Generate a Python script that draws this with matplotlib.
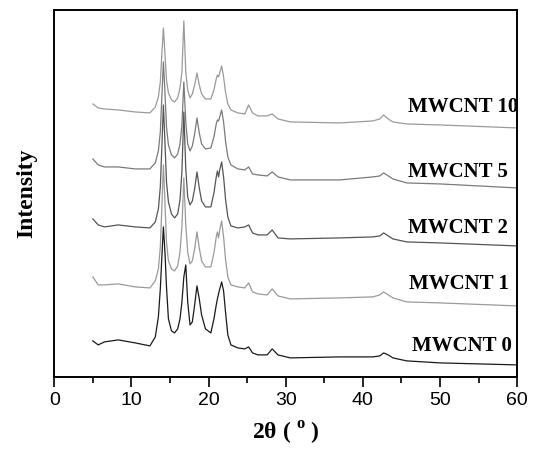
import numpy as np
import matplotlib
matplotlib.use("Agg")
import matplotlib.pyplot as plt

# 2-theta grid shared by all patterns (degrees)
two_theta = [5.0, 5.7, 6.5, 8.3, 10.5, 12.4, 13.1, 13.5, 13.75, 13.95, 14.15, 14.35,
             14.55, 14.8, 15.2, 15.6, 16.0, 16.3, 16.55, 16.8, 17.05, 17.3, 17.6,
             17.9, 18.2, 18.5, 18.8, 19.1, 19.6, 20.3, 20.7, 21.0, 21.15, 21.3,
             21.45, 21.7, 21.95, 22.2, 22.5, 22.9, 23.8, 24.7, 25.2, 25.7, 26.4,
             27.6, 28.25, 29.0, 30.6, 37.0, 41.3, 42.2, 42.7, 43.3, 43.9, 45.7,
             50.0, 60.0]

# intensities (a.u., already stacked with offsets)
mwcnt10 = [273, 269, 268, 267, 265, 264, 270, 280, 295, 323, 349, 323,
           297, 284, 277, 275, 279, 289, 305, 356, 305, 287, 279,
           283, 292, 304, 292, 283, 278, 278, 287, 298, 302, 300,
           304, 311, 300, 285, 273, 267, 264, 263, 272, 264, 261,
           261, 263, 258, 255, 254, 256, 258, 262, 258, 255, 253,
           252, 249]
mwcnt5 = [218, 212, 210, 210, 208, 208, 214, 226, 245, 280, 315, 285,
          250, 232, 222, 219, 223, 233, 252, 295, 255, 233, 226,
          231, 243, 259, 244, 233, 228, 229, 240, 253, 257, 256,
          260, 267, 255, 236, 220, 212, 208, 207, 210, 203, 202,
          201, 205, 200, 197, 197, 200, 201, 204, 201, 198, 194,
          193, 189]
mwcnt2 = [158, 152, 150, 152, 150, 149, 155, 168, 190, 230, 272, 235,
          195, 175, 163, 159, 163, 177, 205, 265, 208, 180, 172,
          176, 188, 205, 189, 176, 170, 170, 184, 200, 206, 200,
          207, 215, 200, 178, 160, 151, 149, 150, 152, 144, 142,
          142, 147, 139, 138, 139, 140, 141, 144, 141, 138, 135,
          134, 131]
mwcnt1 = [100, 92, 92, 93, 90, 89, 96, 108, 130, 170, 212, 175,
          135, 116, 108, 106, 111, 125, 150, 199, 152, 125, 113,
          116, 128, 145, 129, 116, 110, 110, 124, 140, 145, 139,
          147, 156, 140, 118, 100, 92, 90, 89, 94, 85, 83,
          82, 88, 81, 78, 79, 80, 82, 85, 82, 79, 75,
          74, 71]
mwcnt0 = [36, 32, 35, 37, 34, 31, 40, 60, 88, 120, 150, 125,
          90, 58, 46, 44, 48, 58, 75, 100, 112, 75, 52,
          55, 72, 91, 78, 62, 48, 44, 58, 72, 78, 83,
          88, 95, 86, 65, 42, 32, 29, 28, 30, 24, 22,
          22, 28, 22, 19, 20, 20, 21, 24, 22, 19, 16,
          14, 12]

labels = ['MWCNT 10', 'MWCNT 5', 'MWCNT 2', 'MWCNT 1', 'MWCNT 0']
label_x = [45.9, 45.9, 45.9, 46.0, 46.4]
label_y = [270, 205, 149, 93, 31]
colors = ['#9a9a9a', '#7a7a7a', '#555555', '#9a9a9a', '#1a1a1a']

serif = ['Liberation Serif', 'DejaVu Serif']
plt.rcParams['mathtext.fontset'] = 'custom'
plt.rcParams['mathtext.rm'] = 'Liberation Serif:bold'

fig = plt.figure(figsize=(5.37, 4.53), dpi=100)
ax = fig.add_axes([0.101, 0.168, 0.862, 0.810])

for y, c in zip([mwcnt10, mwcnt5, mwcnt2, mwcnt1, mwcnt0], colors):
    ax.plot(two_theta, y, color=c, lw=0.9)

for t, x, y in zip(labels, label_x, label_y):
    ax.text(x, y, t, ha='left', va='center', fontsize=15, fontweight='bold',
            family=serif)

ax.set_xlim(0, 60)
ax.set_ylim(0, 367)
ax.set_xticks(np.arange(0, 61, 10))
ax.set_xticks(np.arange(5, 60, 10), minor=True)
ax.set_yticks([])
ax.tick_params(axis='x', which='major', direction='out', length=7, width=1.2,
               labelsize=14, pad=4)
ax.tick_params(axis='x', which='minor', direction='out', length=4, width=1.2)
for lab in ax.get_xticklabels():
    lab.set_family(['Liberation Sans', 'DejaVu Sans'])
for s in ax.spines.values():
    s.set_linewidth(1.4)

ax.set_xlabel(r'2θ ( $^{\mathrm{o}}$ )', fontsize=17, fontweight='bold',
              family=serif, labelpad=8)
ax.set_ylabel('Intensity', fontsize=17, fontweight='bold', family=serif,
              labelpad=12)

fig.savefig('out.png', dpi=100)
